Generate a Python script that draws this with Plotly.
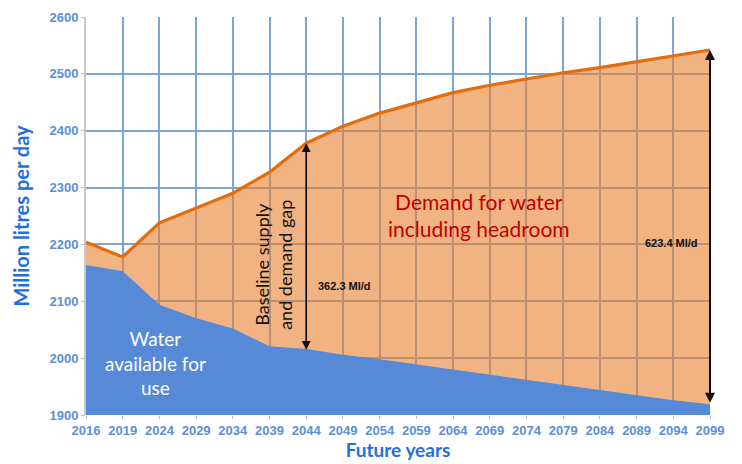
import plotly.graph_objects as go

years = ["2016", "2019", "2024", "2029", "2034", "2039", "2044", "2049", "2054",
         "2059", "2064", "2069", "2074", "2079", "2084", "2089", "2094", "2099"]
demand = [2204, 2178, 2238, 2264, 2290, 2327, 2378, 2408, 2431,
          2449, 2467, 2480, 2491, 2502, 2511, 2521, 2531, 2542]
supply = [2164, 2153, 2094, 2070, 2052, 2021, 2016, 2006, 1998,
          1989, 1980, 1971, 1961, 1952, 1943, 1934, 1926, 1919]
y_ticks = [1900, 2000, 2100, 2200, 2300, 2400, 2500, 2600]

gap_year, gap_label = "2044", "362.3 Ml/d"
end_year, end_label = "2099", "623.4 Ml/d"

TICK_BLUE = "#5B8FD8"
TITLE_BLUE = "#1F6FE0"
GRID_BLUE = "#7FA3D6"

fig = go.Figure()

fig.add_trace(go.Scatter(
    x=years, y=demand, mode="lines",
    line=dict(color="#E46C0A", width=3.2),
    fill="tozeroy", fillcolor="rgba(232,128,45,0.6)",
    hoverinfo="skip", showlegend=False,
))
fig.add_trace(go.Scatter(
    x=years, y=supply, mode="lines",
    line=dict(color="#5689D6", width=0),
    fill="tozeroy", fillcolor="#5689D6",
    hoverinfo="skip", showlegend=False,
))

gi = years.index(gap_year)
ei = years.index(end_year)

annotations = [
    # arrows
    dict(x=gi, y=demand[gi], ax=gi, ay=supply[gi] - 4,
         xref="x", yref="y", axref="x", ayref="y", text="",
         showarrow=True, arrowhead=2, startarrowhead=2, arrowside="end+start",
         arrowwidth=1.6, arrowsize=1.1, startarrowsize=1.1, arrowcolor="#111111"),
    dict(x=ei, y=demand[ei], ax=ei, ay=supply[ei],
         xref="x", yref="y", axref="x", ayref="y", text="",
         showarrow=True, arrowhead=2, startarrowhead=2, arrowside="end+start",
         arrowwidth=2, arrowsize=1.0, startarrowsize=1.0, arrowcolor="#111111"),
    # texts
    dict(x=1.9, y=1992, xref="x", yref="y", text="Water<br>available for<br>use",
         showarrow=False, font=dict(family="Lato", size=19, color="white"),
         align="center"),
    dict(x=5.12, y=2164, xref="x", yref="y", text="Baseline supply<br>and demand gap",
         showarrow=False, textangle=-90,
         font=dict(family="Lato", size=18, color="#111111"), align="center"),
    dict(x=gi, y=2127, xref="x", yref="y", text="<b>" + gap_label + "</b>",
         xanchor="left", xshift=10, showarrow=False,
         font=dict(family="Liberation Sans", size=11, color="#111111")),
    dict(x=10.7, y=2252, xref="x", yref="y",
         text="Demand for water<br>including headroom",
         showarrow=False, font=dict(family="Lato", size=21, color="#C00000"),
         align="center"),
    dict(x=ei, y=2203, xref="x", yref="y", text="<b>" + end_label + "</b>",
         xanchor="right", xshift=-10, showarrow=False,
         font=dict(family="Liberation Sans", size=11, color="#111111")),
]

fig.update_layout(
    width=742, height=464,
    margin=dict(l=86, r=32, t=17, b=49),
    paper_bgcolor="white", plot_bgcolor="white",
    annotations=annotations,
    xaxis=dict(
        type="category", categoryorder="array", categoryarray=years,
        range=[0, len(years) - 1], automargin=False,
        showgrid=True, gridcolor=GRID_BLUE, gridwidth=1.6,
        showline=False, zeroline=False,
        ticks="outside", ticklen=3, tickcolor="#BBBBBB",
        tickfont=dict(family="Liberation Sans", size=13, color=TICK_BLUE, weight="bold"),
        title=dict(text="<b>Future years</b>", standoff=4,
                   font=dict(family="Lato", size=19, color=TITLE_BLUE)),
    ),
    yaxis=dict(
        range=[1900, 2600], tickvals=y_ticks, automargin=False,
        showgrid=True, gridcolor=GRID_BLUE, gridwidth=1.6,
        showline=True, linecolor="#C8C8C8", linewidth=2,
        zeroline=False,
        ticks="outside", ticklen=3, tickcolor="#BBBBBB",
        tickfont=dict(family="Liberation Sans", size=13, color=TICK_BLUE, weight="bold"),
        title=dict(text="<b>Million litres per day</b>", standoff=14,
                   font=dict(family="Lato", size=20, color=TITLE_BLUE)),
    ),
)

fig.write_html("out.html")
